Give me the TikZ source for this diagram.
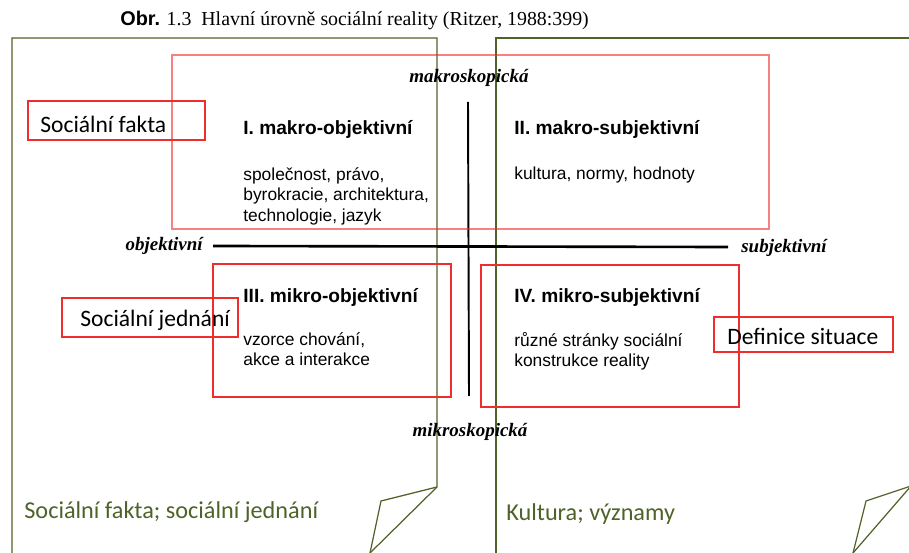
\documentclass[tikz,border=0pt]{standalone}
\usepackage{fontspec}
\setmainfont{Liberation Serif}
\setsansfont{Liberation Sans}
\newfontfamily\calibrifont{Carlito}
\definecolor{sheetgreen}{RGB}{79,98,40}
\definecolor{boxred}{RGB}{238,45,45}

\begin{document}
\begin{tikzpicture}[%
      x=0.02cm, y=-0.02cm,
      every node/.style={inner sep=0pt},
      sheet/.style={draw=sheetgreen, line width=0.7pt},
      redbox/.style={draw=boxred, line width=0.9pt},
      axis/.style={draw=black, line width=1.5pt},
      pole/.style={font={\fontsize{10.8}{12}\selectfont\bfseries\itshape}},
      quad/.style={anchor=west, font={\fontsize{10.9}{12}\selectfont\sffamily\bfseries}},
      items/.style={anchor=north west, align=left,
                    font={\fontsize{9.9}{11.7}\selectfont\sffamily}},
      tag/.style={anchor=west, font={\calibrifont\fontsize{13.4}{15}\selectfont}},
      note/.style={anchor=west, text=sheetgreen,
                   font={\calibrifont\fontsize{13.8}{16}\selectfont}}
    ]
    \useasboundingbox (0,0) rectangle (909,553);

    \node [anchor=west, font={\fontsize{11.3}{13}\selectfont}] (title) at (120,20)
     {{\sffamily\bfseries Obr.} 1.3\enspace Hlavní úrovně sociální reality (Ritzer, 1988:399)};

    % the two sheets
    \draw [sheet] (12,553) -- (12,38) -- (437,38) -- (437,487) -- (370,553);
    \draw [sheet] (437,487) -- (381,501) -- (370,553);
    \draw [sheet] (496,553) -- (496,38) -- (912,38);
    \draw [sheet] (911,486) -- (866,501) -- (853,553);
    \draw [sheet] (911,486) -- (853,553);

    % axes
    \node [pole] (makro) at (469,78) {makroskopická};
    \node [pole] (mikro) at (470,432) {mikroskopická};
    \node [pole, anchor=east] (obj) at (203,246) {objektivní};
    \node [pole, anchor=west] (subj) at (741,248) {subjektivní};
    \draw [axis] (213,246) -- (728,247);
    \draw [axis, line width=1.1pt] (468,102) -- (469,396);

    % quadrants
    \node [quad] (q1) at (243,129) {I. makro-objektivní};
    \node [items] (q1 items) at (243,167)
     {společnost, právo,\\byrokracie, architektura,\\technologie, jazyk};
    \node [quad] (q2) at (514,129) {II. makro-subjektivní};
    \node [items] (q2 items) at (514,167) {kultura, normy, hodnoty};
    \node [quad] (q3) at (243,297) {III. mikro-objektivní};
    \node [items] (q3 items) at (243,332) {vzorce chování,\\akce a interakce};
    \node [quad] (q4) at (514,297) {IV. mikro-subjektivní};
    \node [items] (q4 items) at (514,332) {různé stránky sociální\\konstrukce reality};

    % red marks
    \draw [redbox, draw opacity=0.6] (172,55) rectangle (769,229);
    \draw [redbox] (213,264) rectangle (451,397);
    \draw [redbox] (481,265) rectangle (739,407);
    \draw [redbox] (28,101) rectangle (205,140);
    \draw [redbox] (62,298) rectangle (238,337);
    \draw [redbox] (714,317) rectangle (893,352);
    \node [tag] (fakta) at (40,124) {Sociální fakta};
    \node [tag] (jednani) at (80,320) {Sociální jednání};
    \node [tag] (situace) at (727,336) {Definice situace};

    \node [note] (left note) at (24,512) {Sociální fakta; sociální jednání};
    \node [note] (right note) at (506,514) {Kultura; významy};
   \end{tikzpicture}
\end{document}
